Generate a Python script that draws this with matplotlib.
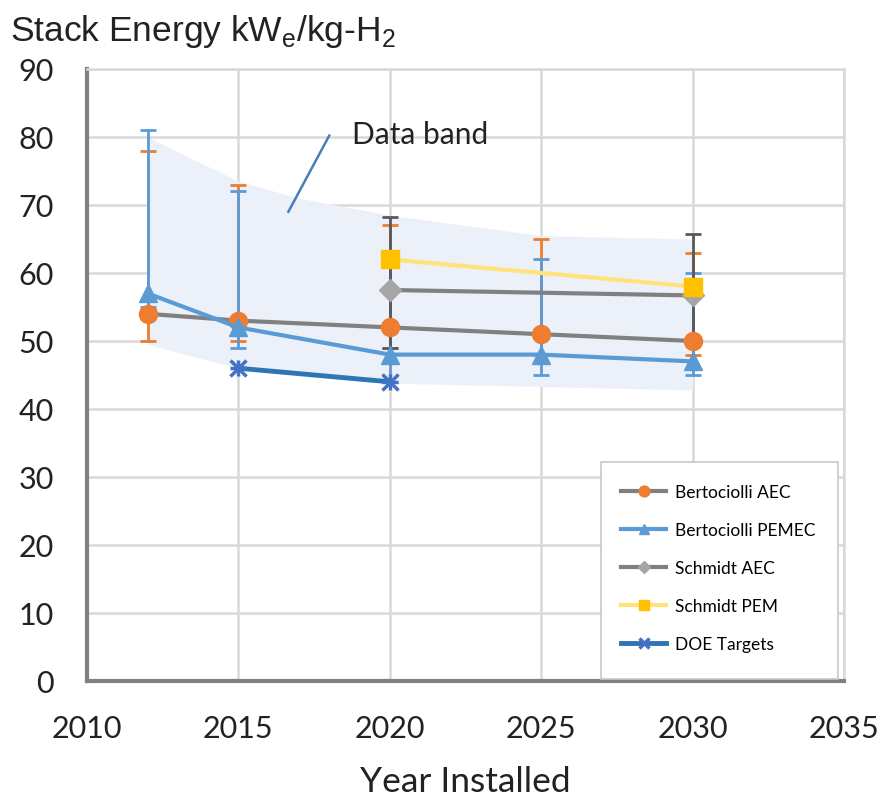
import matplotlib
matplotlib.use("Agg")
import matplotlib.pyplot as plt
from matplotlib.patches import Rectangle
import numpy as np

# ---- data ----
bert_aec_years = [2012, 2015, 2020, 2025, 2030]
bert_aec_vals = [54, 53, 52, 51, 50]
bert_aec_hi = [78, 73, 67, 65, 63]
bert_aec_lo = [50, 50, 49, 48, 48]

bert_pem_years = [2012, 2015, 2020, 2025, 2030]
bert_pem_vals = [57, 52, 48, 48, 47]
bert_pem_hi = [81, 72, 63, 62, 60]
bert_pem_lo = [55, 49, 44, 45, 45]

schmidt_aec_years = [2020, 2030]
schmidt_aec_vals = [57.5, 56.7]
schmidt_aec_hi = [68.3, 65.7]
schmidt_aec_lo = [49, 50]

schmidt_pem_years = [2020, 2030]
schmidt_pem_vals = [62, 58]

doe_years = [2015, 2020]
doe_vals = [46, 44]

band_years = [2012, 2015, 2017, 2020, 2025, 2030]
band_hi = [80, 73.5, 71, 68.5, 65.5, 65]
band_lo = [49.5, 46, 45, 43.8, 43.3, 42.8]

x_ticks = [2010, 2015, 2020, 2025, 2030, 2035]
y_ticks = [0, 10, 20, 30, 40, 50, 60, 70, 80, 90]

SANS = ["Lato", "DejaVu Sans"]
ARIAL = ["Liberation Sans", "DejaVu Sans"]

W, H = 883, 803
fig = plt.figure(figsize=(W/100, H/100), dpi=100)
ax = fig.add_axes([87/W, 1-682/H, (844-87)/W, (682-70)/H])

ax.fill_between(band_years, band_lo, band_hi, color="#ECF0F8", lw=0, zorder=1)

def eb(x, v, lo, hi, color, z):
    v = np.array(v); lo = np.array(lo); hi = np.array(hi)
    ax.errorbar(x, v, yerr=[v-lo, hi-v], fmt="none", ecolor=color,
                elinewidth=2, capsize=6, capthick=2, zorder=z)

eb(bert_aec_years, bert_aec_vals, bert_aec_lo, bert_aec_hi, "#ED7D31", 2)
eb(bert_pem_years, bert_pem_vals, bert_pem_lo, bert_pem_hi, "#5B9BD5", 2.1)
eb(schmidt_aec_years, schmidt_aec_vals, schmidt_aec_lo, schmidt_aec_hi, "#595959", 2.2)

h1, = ax.plot(bert_aec_years, bert_aec_vals, color="#808080", lw=3,
              marker="o", ms=13, mfc="#ED7D31", mec="#ED7D31", zorder=4)
h2, = ax.plot(bert_pem_years, bert_pem_vals, color="#5B9BD5", lw=3,
              marker="^", ms=13, mfc="#5B9BD5", mec="#5B9BD5", zorder=4)
h3, = ax.plot(schmidt_aec_years, schmidt_aec_vals, color="#808080", lw=3,
              marker="D", ms=11, mfc="#A5A5A5", mec="#A5A5A5", zorder=4)
h4, = ax.plot(schmidt_pem_years, schmidt_pem_vals, color="#FFE27A", lw=3,
              marker="s", ms=13, mfc="#FFC000", mec="#FFC000", zorder=4)
h5, = ax.plot(doe_years, doe_vals, color="#2E75B6", lw=3.5,
              marker="x", ms=11, mew=2.5, mec="#4472C4", zorder=4)
ax.plot(doe_years, doe_vals, ls="none", marker="+", ms=11, mew=2.5,
        mec="#4472C4", zorder=4)

ax.set_xlim(2010, 2035)
ax.set_ylim(0, 90)
ax.set_xticks(x_ticks)
ax.set_yticks(y_ticks)
ax.grid(True, color="#D9D9D9", lw=1.8, zorder=0)
ax.set_axisbelow(True)
ax.tick_params(length=0)
ax.tick_params(axis="x", pad=24)
ax.tick_params(axis="y", pad=24)
for lab in ax.get_xticklabels() + ax.get_yticklabels():
    lab.set_family(SANS)
    lab.set_fontsize(22)
    lab.set_color("#222222")
for s in ["left", "bottom"]:
    ax.spines[s].set_color("#808080")
    ax.spines[s].set_linewidth(3)
for s in ["top", "right"]:
    ax.spines[s].set_color("#D9D9D9")
    ax.spines[s].set_linewidth(1.8)

ax.set_xlabel("Year Installed", fontsize=25.5, family=SANS, labelpad=16, color="#222222")

fig.text(10/W, 1-32/H, r"Stack Energy kW$_\mathregular{e}$/kg-H$_\mathregular{2}$",
         fontsize=25.5, family=ARIAL, va="center", ha="left", color="#222222")

ax.text(2021.0, 80.4, "Data band", fontsize=21.5, family=SANS, ha="center", va="center", color="#222222")
ax.plot([2018.0, 2016.65], [80.2, 69.0], color="#4A7EBB", lw=1.8, zorder=3)

# legend box drawn as a figure rectangle
fig.patches.append(Rectangle((601/W, 1-680/H), (838-601)/W, (680-463)/H,
                             transform=fig.transFigure, facecolor="white",
                             edgecolor="#C8C8C8", lw=1.2, zorder=5))
leg = fig.legend([h1, h2, h3, h4, h5],
                 ["Bertociolli AEC", "Bertociolli PEMEC", "Schmidt AEC", "Schmidt PEM", "DOE Targets"],
                 loc="upper left", bbox_to_anchor=(621/W, 1-485/H),
                 prop={"family": SANS, "size": 12.5}, frameon=False,
                 handlelength=2.6, labelspacing=1.27, borderpad=0,
                 markerscale=0.6, handletextpad=0.5, borderaxespad=0)
leg.set_zorder(6)

fig.savefig("out.png", dpi=100)
